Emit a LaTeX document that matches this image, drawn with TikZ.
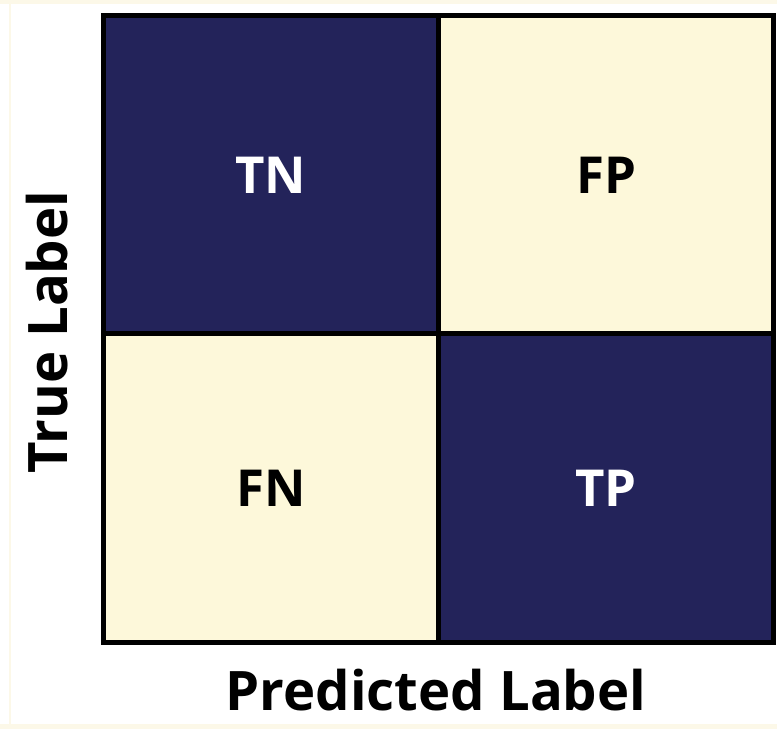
\documentclass[tikz,border=0pt]{standalone}
\usepackage{fontspec}
\setmainfont{Open Sans}
\usetikzlibrary{positioning}

\definecolor{navycell}{RGB}{35,35,90}
\definecolor{creamcell}{RGB}{253,248,218}
\definecolor{framecol}{RGB}{252,248,232}

\tikzset{
    cell/.style={draw=black, line width=0.1cm, outer sep=0pt, inner sep=0pt,
        minimum width=6.71cm, font=\fontsize{29}{34}\selectfont\bfseries},
    darkcell/.style={cell, fill=navycell, text=white},
    lightcell/.style={cell, fill=creamcell, text=black},
    axislabel/.style={font=\fontsize{31}{36}\selectfont\bfseries, inner sep=0pt}
}

\begin{document}
\begin{tikzpicture}[x=0.02cm, y=-0.02cm]
    \useasboundingbox (0,0) rectangle (777,729);
    \fill[white] (0,0) rectangle (777,729);
    % faint frame round the figure
    \fill[framecol] (0,0) rectangle (777,4);
    \fill[framecol] (0,724) rectangle (777,729);
    \draw[framecol, line width=0.6pt] (10,4) -- (10,724);

    % the four cells
    \node[darkcell, minimum height=6.36cm, anchor=north west] (tn) at (103,16) {TN};
    \node[lightcell, minimum height=6.36cm, right=0pt of tn] (fp) {FP};
    \node[lightcell, minimum height=6.18cm, below=0pt of tn] (fn) {FN};
    \node[darkcell, minimum height=6.18cm, right=0pt of fn] (tp) {TP};

    % axis labels
    \node[axislabel] (predlab) at (436,690) {Predicted Label};
    \node[axislabel, rotate=90] (truelab) at (47,332) {True Label};
\end{tikzpicture}
\end{document}
